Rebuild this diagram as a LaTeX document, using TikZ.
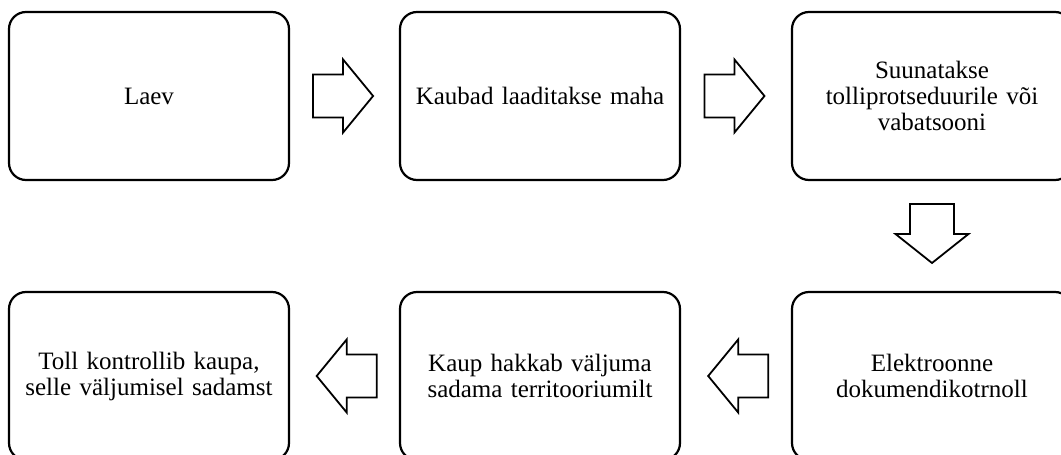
\documentclass[tikz,border=0pt]{standalone}
\usepackage{fontspec}
\setmainfont{Liberation Serif}
\usetikzlibrary{calc}
\begin{document}
\begin{tikzpicture}[x=1pt,y=-1pt,
  stepbox/.style={draw=black, line width=2.2pt, rounded corners=17pt,
    minimum width=280pt, minimum height=168pt, text width=274pt, align=center,
    inner sep=0pt, font=\fontsize{25}{26}\selectfont},
  blockarrow/.style={draw=black, line width=1.8pt, fill=white, line join=miter}]
\useasboundingbox (0,0) rectangle (1061,455);
\clip (0,0) rectangle (1061,455);
\node[stepbox] (b1) at (149,96) {Laev};
\node[stepbox] (b2) at (540,96) {Kaubad laaditakse maha};
\node[stepbox] (b3) at (932,96) {Suunatakse\\tolliprotseduurile või\\vabatsooni};
\node[stepbox] (b4) at (149,376) {Toll kontrollib kaupa,\\selle väljumisel sadamst};
\node[stepbox] (b5) at (540,376) {Kaup hakkab väljuma\\sadama territooriumilt};
\node[stepbox] (b6) at (932,376) {Elektroonne\\dokumendikotrnoll};
% arrow centres (neck points)
\coordinate (a1) at ($(b1.east)!0.487!(b2.west)$);
\coordinate (a2) at ($(b2.east)!0.486!(b3.west)$);
\coordinate (a3) at (932,234);
\coordinate (a4) at ($(b4.east)!0.52!(b5.west)$);
\coordinate (a5) at ($(b5.east)!0.52!(b6.west)$);
% right arrows
\foreach \c in {a1,a2}{
  \draw[blockarrow] (\c) ++(-30,-21.5) -- ++(30,0) -- ++(0,-15) -- ++(30,36.5)
     -- ++(-30,36.5) -- ++(0,-15) -- ++(-30,0) -- cycle;
}
% down arrow
\draw[blockarrow] (a3) ++(-22,-30) -- ++(44,0) -- ++(0,30) -- ++(14.5,0) -- ++(-36.5,29)
   -- ++(-36.5,-29) -- ++(14.5,0) -- cycle;
% left arrows
\foreach \c in {a4,a5}{
  \draw[blockarrow] (\c) ++(30,-21.5) -- ++(-30,0) -- ++(0,-15) -- ++(-30,36.5)
     -- ++(30,36.5) -- ++(0,-15) -- ++(30,0) -- cycle;
}
\end{tikzpicture}
\end{document}
